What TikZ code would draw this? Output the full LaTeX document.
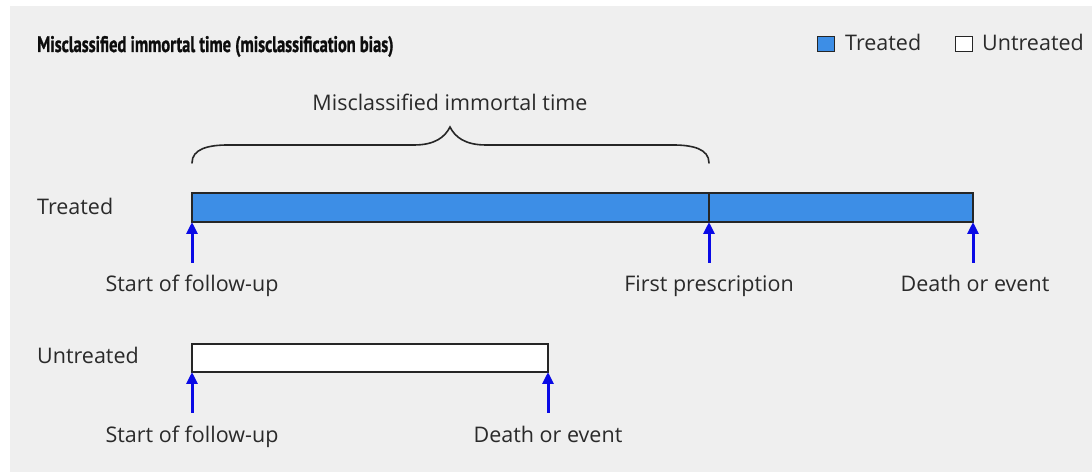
\documentclass[tikz,border=0pt]{standalone}
\usepackage{fontspec}
\setmainfont{Open Sans}
\newfontfamily\titlefont[BoldFeatures={FakeBold=1.2}]{PT Sans}
\usetikzlibrary{arrows.meta,calc}
\definecolor{panel}{HTML}{EFEFEF}
\definecolor{barblue}{HTML}{3D8EE6}
\definecolor{arrblue}{HTML}{0A0AE6}
\definecolor{txt}{HTML}{2A2A2A}
\begin{document}
\begin{tikzpicture}[x=1bp,y=-1bp,
  lbl/.style={text=txt,font=\fontsize{21.5bp}{24bp}\selectfont,inner sep=0pt},
  bar/.style={draw=black!85,line width=1.8bp},
  bracestyle/.style={draw=black!85,line width=1.6bp,line cap=round},
  up/.style={draw=arrblue,line width=3bp,-{Triangle[length=12bp,width=11bp]}},
  leg/.style={draw=black!85,line width=1.8bp,minimum width=17bp,minimum height=15bp,inner sep=0pt}]
\useasboundingbox (0,0) rectangle (1092,472);
\fill[panel] (10,6) rectangle (1092,472);
% title
\node[lbl,anchor=base west,font=\titlefont\fontsize{22.5bp}{26bp}\selectfont\bfseries,text=black!95] (title) at (37,52) {\scalebox{0.73}[1]{Misclassified immortal time (misclassification bias)}};
% legend
\node[leg,fill=barblue] (legT) at (826,44) {};
\node[lbl,anchor=base west] (legTt) at (845,51) {Treated};
\node[leg,fill=white] (legU) at (964,44) {};
\node[lbl,anchor=base west] (legUt) at (982,51) {Untreated};
% brace
\node[lbl,anchor=base] (mit) at (450,111) {Misclassified immortal time};
\coordinate (bl) at (192,163);
\coordinate (br) at (709,163);
\coordinate (tip) at (450,127);
\draw[bracestyle] (bl) .. controls ($(bl)+(0,-14)$) and ($(bl)+(16,-18)$) .. ($(bl)+(36,-18)$)
  -- ($(tip)+(-36,18)$) .. controls ($(tip)+(-15,18)$) and ($(tip)+(-5,10)$) .. (tip)
  .. controls ($(tip)+(5,10)$) and ($(tip)+(15,18)$) .. ($(tip)+(36,18)$)
  -- ($(br)+(-36,-18)$) .. controls ($(br)+(-16,-18)$) and ($(br)+(0,-14)$) .. (br);
% treated bar
\node[lbl,anchor=base west] (tlab) at (37,215) {Treated};
\draw[bar,fill=barblue] (192,193) rectangle (973,222);
\draw[bar] (709,193) -- (709,222);
\coordinate (t1) at (192,222);
\coordinate (t2) at (709,222);
\coordinate (t3) at (973,222);
\coordinate (t1b) at (192,263);
\coordinate (t2b) at (709,263);
\coordinate (t3b) at (973,263);
\draw[up] (t1b) -- (t1);
\draw[up] (t2b) -- (t2);
\draw[up] (t3b) -- (t3);
\node[lbl,anchor=base] (s1) at (192,292) {Start of follow-up};
\node[lbl,anchor=base] (fp) at (709,292) {First prescription};
\node[lbl,anchor=base] (d1) at (975,292) {Death or event};
% untreated bar
\node[lbl,anchor=base west] (ulab) at (37,364) {Untreated};
\draw[bar,fill=white] (192,344) rectangle (548,372);
\coordinate (u1) at (192,372);
\coordinate (u2) at (548,372);
\coordinate (u1b) at (192,413);
\coordinate (u2b) at (548,413);
\draw[up] (u1b) -- (u1);
\draw[up] (u2b) -- (u2);
\node[lbl,anchor=base] (s2) at (192,442) {Start of follow-up};
\node[lbl,anchor=base] (d2) at (548,442) {Death or event};
\end{tikzpicture}
\end{document}
